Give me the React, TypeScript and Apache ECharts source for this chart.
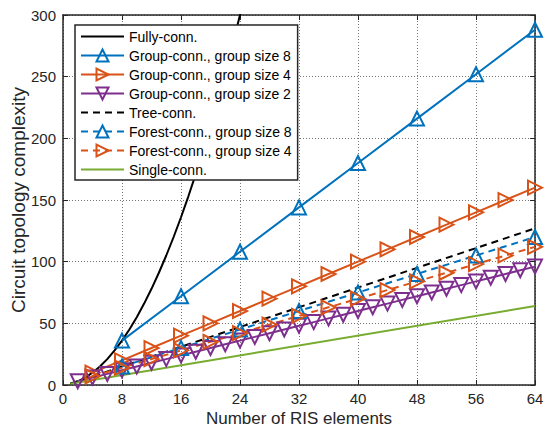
import React, { useEffect, useRef } from "react";
import * as echarts from "echarts";

const xTicks = [0, 8, 16, 24, 32, 40, 48, 56, 64];
const yTicks = [0, 50, 100, 150, 200, 250, 300];

const fullyN = [1, 2, 3, 4, 5, 6, 7, 8, 9, 10, 11, 12, 13, 14, 15, 16, 17, 18, 19, 20, 21, 22, 23, 24, 25];
const fullyV = [1, 3, 6, 10, 15, 21, 28, 36, 45, 55, 66, 78, 91, 105, 120, 136, 153, 171, 190, 210, 231, 253, 276, 300, 325];

const group8N = [8, 16, 24, 32, 40, 48, 56, 64];
const group8V = [36, 72, 108, 144, 180, 216, 252, 288];

const group4N = [4, 8, 12, 16, 20, 24, 28, 32, 36, 40, 44, 48, 52, 56, 60, 64];
const group4V = [10, 20, 30, 40, 50, 60, 70, 80, 90, 100, 110, 120, 130, 140, 150, 160];

const group2N = [2, 4, 6, 8, 10, 12, 14, 16, 18, 20, 22, 24, 26, 28, 30, 32, 34, 36, 38, 40, 42, 44, 46, 48, 50, 52, 54, 56, 58, 60, 62, 64];
const group2V = [3, 6, 9, 12, 15, 18, 21, 24, 27, 30, 33, 36, 39, 42, 45, 48, 51, 54, 57, 60, 63, 66, 69, 72, 75, 78, 81, 84, 87, 90, 93, 96];

const treeN = [1, 8, 16, 24, 32, 40, 48, 56, 64];
const treeV = [1, 15, 31, 47, 63, 79, 95, 111, 127];

const forest8N = [8, 16, 24, 32, 40, 48, 56, 64];
const forest8V = [15, 30, 45, 60, 75, 90, 105, 120];

const forest4N = [4, 8, 12, 16, 20, 24, 28, 32, 36, 40, 44, 48, 52, 56, 60, 64];
const forest4V = [7, 14, 21, 28, 35, 42, 49, 56, 63, 70, 77, 84, 91, 98, 105, 112];

const singleN = [1, 64];
const singleV = [1, 64];

const names = [
  "Fully-conn.",
  "Group-conn., group size 8",
  "Group-conn., group size 4",
  "Group-conn., group size 2",
  "Tree-conn.",
  "Forest-conn., group size 8",
  "Forest-conn., group size 4",
  "Single-conn.",
];
const noMarker = [true, false, false, false, true, false, false, true];

const BLUE = "#0072BD";
const ORANGE = "#D95319";
const PURPLE = "#7E2F8E";
const GREEN = "#77AC30";
const BLACK = "#000000";
const FONT = "'Liberation Sans', Arial, Helvetica, sans-serif";

const zip = (xs: number[], ys: number[]) => xs.map((x, i) => [x, ys[i]]);

function lineSeries(
  name: string,
  data: number[][],
  color: string,
  dashed: boolean,
  symbol: string,
  rotate: number
) {
  return {
    name,
    type: "line",
    data,
    xAxisIndex: 0,
    yAxisIndex: 0,
    symbol,
    symbolSize: 14,
    symbolRotate: rotate,
    showSymbol: symbol !== "none",
    color,
    lineStyle: { color, width: 2, type: dashed ? [7, 5] : "solid" },
    itemStyle: { color: "none", borderColor: color, borderWidth: 2 },
    emphasis: { disabled: true },
    clip: true,
    z: 3,
  };
}

export default function App() {
  const ref = useRef<HTMLDivElement>(null);
  useEffect(() => {
    if (!ref.current) return;
    const chart = echarts.init(ref.current, undefined, { renderer: "svg" });
    const gridLine = { show: true, lineStyle: { color: "#777", type: [1, 2], width: 1 } };
    const axisCommon = {
      axisLine: { show: true, onZero: false, lineStyle: { color: "#262626", width: 1.5 } },
      axisTick: { show: true, inside: true, length: 5, lineStyle: { color: "#262626" } },
    };
    chart.setOption({
      animation: false,
      backgroundColor: "#ffffff",
      textStyle: { fontFamily: FONT },
      grid: { left: 63, right: 10, top: 15, bottom: 47, containLabel: false, outerBoundsMode: "none" },
      legend: {
        data: names.map((n, i) =>
          noMarker[i] ? { name: n, itemStyle: { opacity: 0 } } : { name: n }
        ),
        orient: "vertical",
        left: 75,
        top: 25,
        itemWidth: 43,
        itemHeight: 15,
        itemGap: 2,
        padding: [3, 6, 2, 5],
        backgroundColor: "#ffffff",
        borderColor: "#262626",
        borderWidth: 1.5,
        borderRadius: 0,
        textStyle: { fontSize: 14, lineHeight: 15, color: "#000", fontFamily: FONT, padding: [0, 0, 0, 0] },
        selectedMode: false,
        z: 10,
      },
      xAxis: [
        {
          type: "value",
          min: xTicks[0],
          max: xTicks[xTicks.length - 1],
          interval: 8,
          position: "bottom",
          name: "Number of RIS elements",
          nameLocation: "middle",
          nameGap: 25,
          nameMoveOverlap: false,
          nameTextStyle: { fontSize: 17, color: "#262626", fontFamily: FONT },
          axisLabel: { fontSize: 15, color: "#262626", margin: 6, fontFamily: FONT },
          splitLine: gridLine,
          ...axisCommon,
        },
        {
          type: "value",
          min: xTicks[0],
          max: xTicks[xTicks.length - 1],
          interval: 8,
          position: "top",
          axisLabel: { show: false },
          splitLine: { show: false },
          ...axisCommon,
        },
      ],
      yAxis: [
        {
          type: "value",
          min: yTicks[0],
          max: yTicks[yTicks.length - 1],
          interval: 50,
          position: "left",
          name: "Circuit topology complexity",
          nameLocation: "middle",
          nameGap: 35,
          nameMoveOverlap: false,
          nameTextStyle: { fontSize: 19, color: "#262626", fontFamily: FONT },
          axisLabel: { fontSize: 15, color: "#262626", margin: 7, fontFamily: FONT },
          splitLine: gridLine,
          ...axisCommon,
        },
        {
          type: "value",
          min: yTicks[0],
          max: yTicks[yTicks.length - 1],
          interval: 50,
          position: "right",
          axisLabel: { show: false },
          splitLine: { show: false },
          ...axisCommon,
        },
      ],
      series: [
        lineSeries(names[0], zip(fullyN, fullyV), BLACK, false, "none", 0),
        lineSeries(names[1], zip(group8N, group8V), BLUE, false, "triangle", 0),
        lineSeries(names[2], zip(group4N, group4V), ORANGE, false, "triangle", -90),
        lineSeries(names[3], zip(group2N, group2V), PURPLE, false, "triangle", 180),
        lineSeries(names[4], zip(treeN, treeV), BLACK, true, "none", 0),
        lineSeries(names[5], zip(forest8N, forest8V), BLUE, true, "triangle", 0),
        lineSeries(names[6], zip(forest4N, forest4V), ORANGE, true, "triangle", -90),
        lineSeries(names[7], zip(singleN, singleV), GREEN, false, "none", 0),
      ],
    });
    return () => chart.dispose();
  }, []);
  return <div ref={ref} style={{ width: 545, height: 432, position: "absolute", left: 0, top: 0 }} />;
}
